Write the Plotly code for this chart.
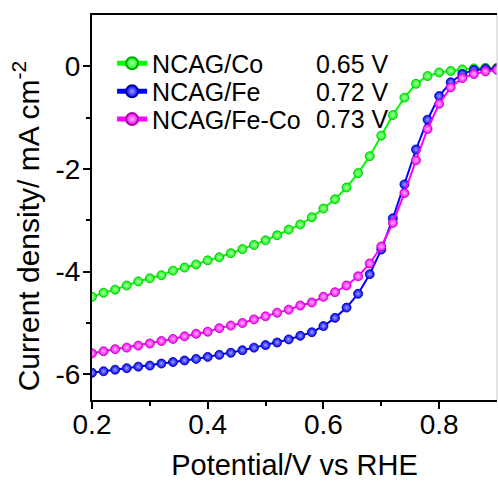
import plotly.graph_objects as go

potential = [0.20, 0.22, 0.24, 0.26, 0.28, 0.30, 0.32, 0.34, 0.36, 0.38,
             0.40, 0.42, 0.44, 0.46, 0.48, 0.50, 0.52, 0.54, 0.56, 0.58,
             0.60, 0.62, 0.64, 0.66, 0.68, 0.70, 0.72, 0.74, 0.76, 0.78,
             0.80, 0.82, 0.84, 0.86, 0.88, 0.90]

ncag_co = [-4.49, -4.41, -4.35, -4.27, -4.19, -4.13, -4.07, -3.98, -3.92, -3.86,
           -3.78, -3.72, -3.64, -3.56, -3.48, -3.39, -3.29, -3.18, -3.08, -2.94,
           -2.77, -2.59, -2.36, -2.08, -1.75, -1.35, -0.95, -0.61, -0.34, -0.19,
           -0.12, -0.09, -0.06, -0.04, -0.03, -0.03]

ncag_fe = [-5.97, -5.94, -5.91, -5.88, -5.85, -5.83, -5.79, -5.76, -5.73, -5.70,
           -5.66, -5.62, -5.58, -5.53, -5.48, -5.43, -5.38, -5.32, -5.25, -5.18,
           -5.06, -4.90, -4.70, -4.43, -4.05, -3.57, -2.96, -2.30, -1.62, -1.04,
           -0.58, -0.31, -0.15, -0.07, -0.05, -0.04]

ncag_feco = [-5.59, -5.55, -5.51, -5.48, -5.44, -5.40, -5.35, -5.31, -5.26, -5.21,
             -5.17, -5.10, -5.05, -5.00, -4.93, -4.87, -4.80, -4.74, -4.66, -4.60,
             -4.49, -4.40, -4.27, -4.09, -3.84, -3.51, -3.05, -2.47, -1.83, -1.22,
             -0.73, -0.41, -0.23, -0.15, -0.10, -0.07]

series_names = ["NCAG/Co", "NCAG/Fe", "NCAG/Fe-Co"]
onset_labels = ["0.65 V", "0.72 V", "0.73 V"]
x_ticks = [0.2, 0.4, 0.6, 0.8]
x_ticktext = ["0.2", "0.4", "0.6", "0.8"]
y_ticks = [0, -2, -4, -6]
y_ticktext = ["0", "-2", "-4", "-6"]

colors = ["#00FF00", "#0000FF", "#FF00FF"]
edge_colors = ["#00B000", "#0000A0", "#B000B0"]
highlights = ["#B8FFB8", "#A0A0FF", "#FFB8FF"]

FONT = "Liberation Sans, Arial, sans-serif"
row_y = [0.874, 0.801, 0.729]
legend_ids = ["legend", "legend2", "legend3"]

fig = go.Figure()
for name, ys, c, ec, hl, lid in zip(series_names, [ncag_co, ncag_fe, ncag_feco],
                                    colors, edge_colors, highlights, legend_ids):
    fig.add_trace(go.Scatter(
        x=potential, y=ys, name=name, mode="lines+markers", legend=lid,
        line=dict(color=c, width=2),
        marker=dict(size=9, color=c, line=dict(color=ec, width=0.8),
                    gradient=dict(type="radial", color=hl)),
    ))

for i, lab in enumerate(onset_labels):
    fig.add_annotation(
        x=0.549, y=row_y[i], xref="paper", yref="paper",
        text=lab, showarrow=False, xanchor="left", yanchor="middle",
        font=dict(family=FONT, size=25, color="black"),
    )

fig.add_annotation(
    x=-0.162, y=0.452, xref="paper", yref="paper",
    text="Current density/ mA cm<sup>-2</sup>", textangle=-90, showarrow=False,
    xanchor="center", yanchor="middle",
    font=dict(family=FONT, size=30, color="black"),
)

fig.add_shape(type="line", xref="paper", yref="paper", x0=1, x1=1, y0=0, y1=1,
              line=dict(color="#c8c8c8", width=1))

legend_common = dict(xanchor="left", yanchor="middle",
                     bgcolor="rgba(0,0,0,0)", font=dict(family=FONT, size=25),
                     itemsizing="constant")

fig.update_layout(
    width=498, height=482,
    margin=dict(l=92, r=1, t=15, b=82),
    paper_bgcolor="white", plot_bgcolor="white",
    font=dict(family=FONT, color="black"),
    showlegend=True,
    legend=dict(x=0.0496, y=row_y[0], **legend_common),
    legend2=dict(x=0.0496, y=row_y[1], **legend_common),
    legend3=dict(x=0.0496, y=row_y[2], **legend_common),
    xaxis=dict(
        range=[0.2, 0.9], tickvals=x_ticks, ticktext=x_ticktext,
        showgrid=False, zeroline=False,
        showline=True, linecolor="black", linewidth=2, mirror=True,
        ticks="outside", ticklen=7, tickwidth=2, tickcolor="black",
        tickfont=dict(family=FONT, size=28), ticklabelstandoff=-9,
        minor=dict(tickvals=[0.3, 0.5, 0.7], ticks="outside", ticklen=4,
                   tickwidth=2, tickcolor="black", showgrid=False),
        title=dict(text="Potential/V vs RHE", font=dict(family=FONT, size=29),
                   standoff=16),
    ),
    yaxis=dict(
        range=[-6.5, 1], tickvals=y_ticks, ticktext=y_ticktext,
        showgrid=False, zeroline=False,
        showline=True, linecolor="black", linewidth=2, mirror=False,
        ticks="outside", ticklen=7, tickwidth=2, tickcolor="black",
        tickfont=dict(family=FONT, size=28), ticklabelstandoff=-3,
        minor=dict(tickvals=[-1, -3, -5], ticks="outside", ticklen=4,
                   tickwidth=2, tickcolor="black", showgrid=False),
    ),
)

fig.write_html("out.html")
